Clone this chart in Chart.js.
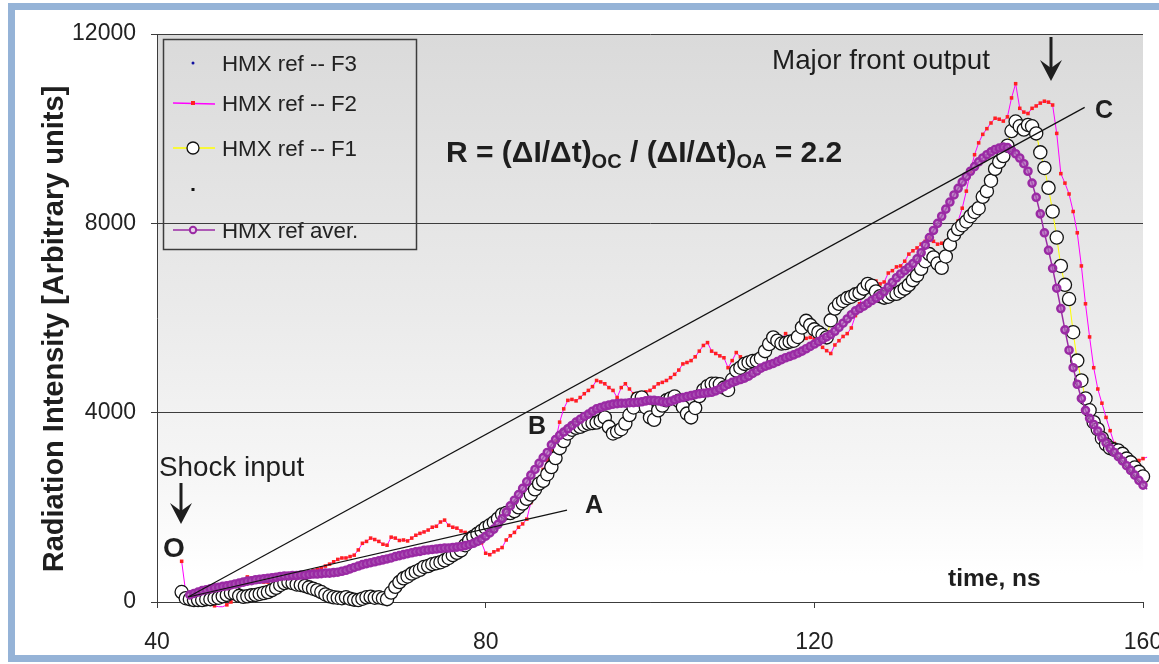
<!DOCTYPE html>
<html lang="en">
<head>
<meta charset="UTF-8">
<title>HMX radiation intensity</title>
<script src="https://cdn.jsdelivr.net/npm/chart.js"></script>
<style>
  html, body { margin: 0; padding: 0; background: #fff; }
  body { width: 1159px; height: 664px; overflow: hidden; position: relative; }
  .frame { position: absolute; left: 8px; top: 3px; width: 1200px; height: 659px;
           border: 7px solid #95b3d7; box-sizing: border-box; }
  #wrap { position: absolute; left: 0; top: 0; width: 1159px; height: 664px; }
</style>
</head>
<body>
<div class="frame"></div>
<div id="wrap"><canvas id="chart"></canvas></div>

<script>
// traces are sampled every 0.5 ns starting at 43 ns (10 samples per row = 5 ns)
const startTime = 43;
const step = 0.5;

const f2Values = [
  860, 200, 150, 120, 100, 80, 60, 0, -80, -100,
  -100, -60, 0, 150, 350, 460, 530, 500, 480, 450,
  420, 420, 470, 500, 520, 560, 580, 560, 560, 600,
  610, 640, 660, 690, 720, 760, 800, 850, 900, 930,
  930, 960, 990, 1100, 1240, 1280, 1350, 1320, 1280, 1220,
  1200, 1370, 1350, 1300, 1310, 1290, 1350, 1410, 1450, 1480,
  1520, 1580, 1600, 1690, 1730, 1620, 1580, 1560, 1500, 1470,
  1450, 1400, 1330, 1250, 1030, 1000, 1060, 1100, 1150, 1310,
  1400, 1470, 1580, 1650, 1750, 2100, 2350, 2600, 2800, 3000,
  3200, 3400, 3800, 4080, 4260, 4280, 4250, 4320, 4400, 4470,
  4550, 4680, 4650, 4610, 4530, 4470, 4320, 4530, 4610, 4500,
  4400, 4400, 4420, 4440, 4470, 4540, 4610, 4640, 4680, 4740,
  4810, 4900, 5030, 5060, 5100, 5180, 5300, 5420, 5480, 5300,
  5250, 5200, 5160, 4950, 5100, 5270, 5180, 5140, 5160, 5180,
  5200, 5220, 5280, 5350, 5420, 5460, 5560, 5670, 5600, 5540,
  5520, 5540, 5570, 5590, 5560, 5460, 5380, 5310, 5250, 5430,
  5520, 5610, 5670, 5790, 6050, 6300, 6500, 6620, 6700, 6780,
  6720, 6760, 6950, 7000, 7080, 7100, 7200, 7350, 7420, 7480,
  7560, 7620, 7690, 7620, 7560, 7580, 7620, 7640, 7850, 8050,
  8320, 8680, 9100, 9450, 9700, 9880, 10000, 10120, 10220, 10200,
  10160, 10250, 10650, 10950, 10430, 10350, 10320, 10430, 10480, 10540,
  10580, 10560, 10500, 9900, 9050, 8850, 8620, 8250, 7800, 7100,
  6300, 5600, 4950, 4500, 4200, 3900, 3620, 3350, 3180, 3100,
  3060, 3020, 3000, 2990, 3030
];

const f1Values = [
  210, 80, 60, 40, 40, 40, 60, 60, 80, 90,
  120, 150, 190, 180, 130, 110, 120, 140, 150, 170,
  190, 210, 250, 300, 360, 400, 420, 400, 370, 360,
  340, 310, 280, 250, 210, 160, 120, 100, 90, 80,
  100, 70, 50, 40, 70, 100, 110, 90, 100, 80,
  60, 200, 320, 420, 500, 540, 600, 640, 680, 740,
  760, 800, 820, 840, 880, 930, 990, 1040, 1090, 1200,
  1300, 1380, 1440, 1500, 1570, 1620, 1680, 1760, 1850, 1880,
  1880, 1920, 2000, 2080, 2180, 2270, 2380, 2500, 2560, 2700,
  2850, 3040, 3250, 3400, 3560, 3640, 3680, 3700, 3740, 3770,
  3780, 3790, 3830, 3900, 3700, 3560, 3600, 3650, 3770, 3950,
  4110, 4300, 4320, 4110, 3900, 3850, 4050, 4150, 4260, 4300,
  4340, 4250, 4120, 3980, 3900, 4100, 4350, 4480, 4560, 4610,
  4610, 4600, 4530, 4480, 4700, 4890, 4950, 5030, 5060, 5090,
  5100, 5150, 5300, 5450, 5590, 5520, 5460, 5470, 5500, 5520,
  5600, 5800, 5940, 5850, 5760, 5700, 5640, 5590, 5950, 6200,
  6300, 6360, 6420, 6450, 6500, 6530, 6620, 6720, 6680, 6560,
  6460, 6430, 6450, 6500, 6510, 6560, 6620, 6700, 6800, 6900,
  7040, 7200, 7350, 7280, 7150, 7060, 7300, 7550, 7760, 7880,
  7960, 8040, 8150, 8240, 8320, 8560, 8680, 8900, 9150, 9300,
  9420, 9640, 9950, 10150, 10050, 9980, 10080, 10050, 9900, 9500,
  9170, 8750, 8250, 7700, 7100, 6700, 6400, 5700, 5100, 4680,
  4300, 4050, 3800, 3650, 3460, 3330, 3250, 3220, 3200, 3130,
  3030, 2950, 2840, 2750, 2650
];

const averValues = [
  null, null, 150, 180, 210, 240, 260, 280, 300, 310,
  330, 340, 360, 380, 400, 420, 440, 450, 470, 480,
  490, 500, 510, 520, 540, 550, 550, 560, 560, 570,
  570, 580, 590, 590, 600, 610, 610, 620, 630, 650,
  670, 700, 730, 760, 790, 810, 830, 850, 870, 890,
  910, 930, 960, 980, 1000, 1020, 1040, 1060, 1070, 1090,
  1100, 1110, 1120, 1130, 1140, 1140, 1150, 1160, 1170, 1190,
  1210, 1240, 1280, 1330, 1390, 1460, 1540, 1640, 1760, 1900,
  2030, 2150, 2270, 2400, 2540, 2680, 2800, 2930, 3050, 3160,
  3320, 3430, 3520, 3590, 3660, 3730, 3800, 3860, 3920, 3970,
  4030, 4080, 4110, 4140, 4160, 4180, 4190, 4200, 4200, 4210,
  4210, 4220, 4230, 4250, 4260, 4260, 4250, 4230, 4220, 4240,
  4270, 4300, 4320, 4340, 4360, 4380, 4400, 4410, 4420, 4430,
  4460, 4500, 4550, 4600, 4640, 4670, 4700, 4730, 4770, 4830,
  4880, 4940, 4980, 5010, 5040, 5080, 5120, 5160, 5190, 5220,
  5260, 5300, 5350, 5400, 5450, 5500, 5550, 5600, 5650, 5720,
  5800, 5890, 5980, 6070, 6150, 6200, 6250, 6310, 6370, 6420,
  6480, 6560, 6650, 6750, 6850, 6930, 7000, 7070, 7150, 7250,
  7380, 7540, 7700, 7850, 8000, 8150, 8300, 8450, 8600, 8740,
  8870, 8990, 9100, 9200, 9300, 9380, 9450, 9510, 9560, 9590,
  9610, 9600, 9540, 9470, 9380, 9260, 9100, 8850, 8550, 8200,
  7800, 7430, 7050, 6630, 6200, 5750, 5320, 4950, 4600, 4300,
  4050, 3880, 3750, 3610, 3480, 3360, 3250, 3160, 3070, 2980,
  2880, 2780, 2680, 2570, 2470
];

// the recorded traces run on past the 160 ns edge of the axis
const tailTimes = [160, 160.5, 161, 161.5, 162];
const f2Tail = [3030, 3060, 3020, 2850, 2700];
const f1Tail = [2650, 2510, 2560, 2440, 2500];
const averTail = [2470, 2380, 2290, 2210, 2150];

// slope lines O-A and O-C: [time, intensity]
const pointO = [43.8, 105];
const pointA = [89.9, 1940];
const pointC = [152.9, 10450];

const xTicks = [40, 80, 120, 160];
const yTicks = [0, 4000, 8000, 12000];
const legendNames = ['HMX ref -- F3', 'HMX ref -- F2', 'HMX ref -- F1', '', 'HMX ref aver.'];

const FONT = '"Liberation Sans", Arial, sans-serif';
const INK = '#1e1e1e';
const PURPLE = '#9a2aa4';

const times = f2Values.map((_, i) => startTime + i * step);
const toPoints = (xs, ys) => xs.map((x, i) => ({ x: x, y: ys[i] }));
const edgeClip = { left: 10, top: 10, right: 8, bottom: 8 };

function arrowDown(ctx, x, top, tip) {
  ctx.strokeStyle = INK;
  ctx.fillStyle = INK;
  ctx.lineWidth = 3;
  ctx.beginPath();
  ctx.moveTo(x, top);
  ctx.lineTo(x, tip - 10);
  ctx.stroke();
  ctx.beginPath();
  ctx.moveTo(x, tip);
  ctx.lineTo(x - 11, tip - 21);
  ctx.lineTo(x, tip - 13);
  ctx.lineTo(x + 11, tip - 21);
  ctx.closePath();
  ctx.fill();
}

function drawLegend(ctx) {
  ctx.save();
  ctx.strokeStyle = '#3c3c3c';
  ctx.lineWidth = 1.5;
  ctx.strokeRect(163.5, 39.5, 253, 210);
  const rows = [63, 103, 148, 189, 230];
  const sx = 193;
  rows.forEach((y, i) => {
    if (i === 0) {
      ctx.fillStyle = '#1010a0';
      ctx.beginPath(); ctx.arc(sx, y, 1.5, 0, Math.PI * 2); ctx.fill();
    } else if (i === 1) {
      ctx.strokeStyle = '#ff00ff'; ctx.lineWidth = 1.5;
      ctx.beginPath(); ctx.moveTo(173, y); ctx.lineTo(215, y + 1); ctx.stroke();
      ctx.fillStyle = '#ff2020'; ctx.fillRect(sx - 2, y - 2, 4, 4);
    } else if (i === 2) {
      ctx.strokeStyle = '#ffff00'; ctx.lineWidth = 1.5;
      ctx.beginPath(); ctx.moveTo(173, y); ctx.lineTo(215, y); ctx.stroke();
      ctx.fillStyle = '#fff'; ctx.strokeStyle = '#111'; ctx.lineWidth = 1.3;
      ctx.beginPath(); ctx.arc(sx, y, 6, 0, Math.PI * 2); ctx.fill(); ctx.stroke();
    } else if (i === 3) {
      ctx.fillStyle = '#111'; ctx.fillRect(sx - 1.5, y - 1, 3, 3);
    } else {
      ctx.strokeStyle = PURPLE; ctx.lineWidth = 1.5;
      ctx.beginPath(); ctx.moveTo(173, y); ctx.lineTo(215, y); ctx.stroke();
      ctx.fillStyle = '#e8d0ea'; ctx.lineWidth = 2;
      ctx.beginPath(); ctx.arc(sx, y, 3.2, 0, Math.PI * 2); ctx.fill(); ctx.stroke();
    }
    ctx.fillStyle = '#222';
    ctx.font = '22.3px ' + FONT;
    ctx.textBaseline = 'alphabetic';
    ctx.fillText(legendNames[i], 222, y + 8);
  });
  ctx.restore();
}

function drawFormula(ctx, x, baseline) {
  const parts = [
    ['R = (\u0394I/\u0394t)', false], ['OC', true],
    [' / (\u0394I/\u0394t)', false], ['OA', true],
    [' = 2.2', false]
  ];
  parts.forEach(([txt, sub]) => {
    ctx.font = (sub ? 'bold 20px ' : 'bold 30px ') + FONT;
    ctx.fillText(txt, x, sub ? baseline + 6 : baseline);
    x += ctx.measureText(txt).width;
  });
}

const decor = {
  id: 'decor',
  beforeDraw(chart) {
    const { ctx, chartArea: a } = chart;
    ctx.save();
    const g = ctx.createLinearGradient(0, a.top, 0, a.bottom);
    g.addColorStop(0, '#dadada');
    g.addColorStop(0.5, '#ebebeb');
    g.addColorStop(0.8, '#f7f7f7');
    g.addColorStop(0.95, '#ffffff');
    ctx.fillStyle = g;
    ctx.fillRect(a.left, a.top, a.right - a.left, a.bottom - a.top);
    ctx.restore();
    drawLegend(ctx);
  },
  afterDraw(chart) {
    const { ctx } = chart;
    ctx.save();
    ctx.fillStyle = INK;
    ctx.textBaseline = 'alphabetic';

    ctx.font = '27.8px ' + FONT;
    ctx.textAlign = 'left';
    ctx.fillText('Shock input', 159, 476);
    ctx.fillText('Major front output', 772, 69);

    ctx.textAlign = 'center';
    ctx.font = 'bold 28px ' + FONT;
    ctx.fillText('O', 174, 557);
    ctx.font = 'bold 25px ' + FONT;
    ctx.fillText('A', 594, 513);
    ctx.fillText('B', 537, 434);
    ctx.fillText('C', 1104, 118);

    ctx.textAlign = 'left';
    ctx.font = 'bold 24.5px ' + FONT;
    ctx.fillText('time, ns', 948, 586);

    drawFormula(ctx, 446, 162);

    arrowDown(ctx, 181, 483, 524);
    arrowDown(ctx, 1051, 37, 81);

    ctx.translate(55, 329);
    ctx.rotate(-Math.PI / 2);
    ctx.textAlign = 'center';
    ctx.textBaseline = 'middle';
    ctx.font = 'bold 29px ' + FONT;
    ctx.fillText('Radiation Intensity [Arbitrary units]', 0, 0);
    ctx.restore();
  }
};

new Chart(document.getElementById('chart'), {
  type: 'line',
  data: {
    datasets: [
      {
        label: 'OA', data: toPoints([pointO[0], pointA[0]], [pointO[1], pointA[1]]),
        borderColor: '#111', borderWidth: 1.2, pointRadius: 0, order: 0
      },
      {
        label: 'OC', data: toPoints([pointO[0], pointC[0]], [pointO[1], pointC[1]]),
        borderColor: '#111', borderWidth: 1.2, pointRadius: 0, order: 0
      },
      {
        label: 'HMX ref aver.', data: toPoints(times, averValues),
        borderColor: PURPLE, borderWidth: 1.5,
        pointRadius: 3.6, pointBorderWidth: 2.4, pointBorderColor: PURPLE,
        pointBackgroundColor: 'rgba(175,95,185,0.7)', clip: edgeClip, order: 1
      },
      {
        label: 'HMX ref -- F1', data: toPoints(times, f1Values),
        borderColor: '#ffff00', borderWidth: 1,
        pointRadius: 6.6, pointBorderWidth: 1.3, pointBorderColor: '#141414',
        pointBackgroundColor: '#ffffff', clip: edgeClip, order: 2
      },
      {
        label: 'HMX ref -- F2', data: toPoints(times, f2Values),
        borderColor: '#ff00ff', borderWidth: 1,
        pointStyle: 'rect', pointRadius: 2.5, pointBorderWidth: 0,
        pointBackgroundColor: '#ff2020', clip: edgeClip, order: 3
      },
      {
        label: 'aver tail', data: toPoints(tailTimes, averTail),
        borderColor: PURPLE, borderWidth: 1.5, pointRadius: 0, clip: false, order: 4
      },
      {
        label: 'F1 tail', data: toPoints(tailTimes, f1Tail),
        borderColor: '#ffff00', borderWidth: 1.2, pointRadius: 0, clip: false, order: 4
      },
      {
        label: 'F2 tail', data: toPoints(tailTimes, f2Tail),
        borderColor: '#ff00ff', borderWidth: 1, pointRadius: 0, clip: false, order: 4
      }
    ]
  },
  options: {
    responsive: true,
    maintainAspectRatio: false,
    animation: false,
    spanGaps: false,
    layout: { padding: { left: 0, top: 34, right: 16, bottom: 0 } },
    plugins: { legend: { display: false }, tooltip: { enabled: false } },
    scales: {
      x: {
        type: 'linear', min: xTicks[0], max: xTicks[xTicks.length - 1],
        afterBuildTicks: (s) => { s.ticks = xTicks.map(v => ({ value: v })); },
        afterFit: (s) => { s.height = 62; s.paddingLeft = 0; s.paddingRight = 0; },
        grid: { drawOnChartArea: false, drawTicks: true, tickLength: 6, color: '#3c3c3c' },
        border: { display: true, color: '#3c3c3c', width: 1 },
        ticks: { color: '#222', padding: 21, maxRotation: 0, callback: (v) => String(v),
                 font: { family: FONT, size: 23 } }
      },
      y: {
        min: yTicks[0], max: yTicks[yTicks.length - 1],
        afterBuildTicks: (s) => { s.ticks = yTicks.map(v => ({ value: v })); },
        afterFit: (s) => { s.width = 157; s.paddingTop = 0; s.paddingBottom = 0; },
        grid: { drawOnChartArea: true, drawTicks: true, tickLength: 6, color: '#3c3c3c' },
        border: { display: true, color: '#3c3c3c', width: 1 },
        ticks: { color: '#222', padding: 15, callback: (v) => String(v),
                 font: { family: FONT, size: 23 } }
      }
    }
  },
  plugins: [decor]
});
</script>
</body>
</html>
